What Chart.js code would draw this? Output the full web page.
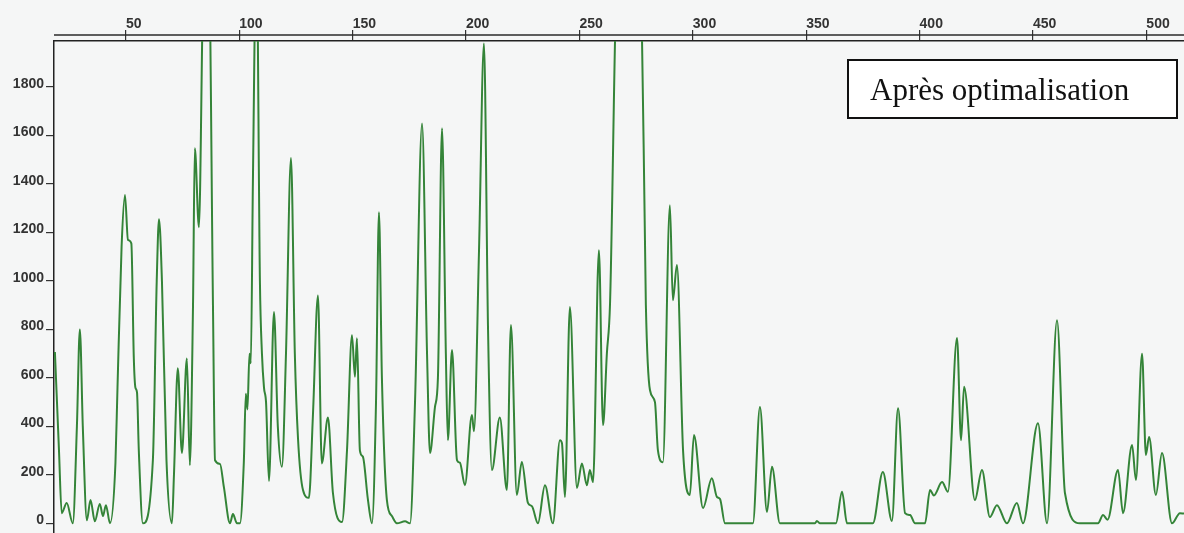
<!DOCTYPE html>
<html>
<head>
<meta charset="utf-8">
<script src="https://cdn.jsdelivr.net/npm/chart.js@4"></script>
<style>
    html, body { margin: 0; padding: 0; background: #f5f6f6; overflow: hidden; }
    canvas { display: block; }
</style>
</head>
<body>
<canvas id="chart" width="1184" height="533"></canvas>
<script>
// Values (x = channel, y = intensity)
const xValues = [
    18.7, 20.5, 21.7, 23.9, 26.6, 28.4, 29.7, 31.0, 32.8, 34.4, 36.3, 38.5, 39.9, 41.2, 43.0,
    45.4, 46.3, 48.1, 49.6, 50.9, 52.4, 53.5, 54.2, 54.9, 55.7, 57.5,
    61.9, 63.6, 64.6, 65.9, 67.9, 70.3, 71.2, 72.9, 74.7, 76.9, 78.2, 79.6, 80.4, 82.2,
    84.4, 86.6, 88.4, 89.3, 91.5, 93.2, 95.9, 97.2, 99.0, 100.3,
    102.0, 102.9, 103.6, 104.5, 105.1, 106.0, 107.6, 109.1, 110.0, 110.9, 111.8, 113.1,
    115.3, 117.0, 118.8, 120.6, 122.8, 124.5, 125.9, 128.1, 130.7, 132.5, 134.7, 136.4,
    139.1, 141.3, 145.3, 147.5, 149.7, 151.0, 151.9, 153.2, 154.5, 156.7, 158.5, 160.3,
    161.6, 162.9, 165.1, 167.3, 169.5, 173.1, 175.3, 177.5, 180.6, 182.8, 184.1, 186.3,
    187.6, 189.4, 191.1, 192.0, 193.8, 196.0, 197.3, 199.5, 202.6, 203.5, 205.7, 207.9,
    209.7, 211.4, 214.9, 218.0, 219.8, 222.4, 224.6, 227.3, 229.1, 231.7, 234.8, 238.3,
    241.4, 242.3, 243.6, 245.8, 248.9, 251.1, 253.3, 254.6, 256.0, 258.6, 260.4, 262.1,
    263.5, 266.5, 271.8, 277.1, 279.3, 281.1, 283.3, 284.6, 286.8, 289.9, 291.2, 293.0,
    295.7, 298.7, 300.5, 304.5, 308.4, 310.6, 312.0, 314.2, 326.5, 329.6, 332.7, 334.9,
    338.4, 353.9, 354.7, 356.1, 363.1, 365.8, 368.0, 379.4, 383.8, 387.8, 390.5, 393.6,
    395.8, 398.0, 402.4, 404.6, 406.3, 409.9, 412.5, 416.5, 418.3, 419.6, 424.4, 427.5,
    431.0, 434.1, 438.5, 442.9, 445.6, 452.2, 456.2, 460.6, 464.1, 470.7, 478.7, 480.9,
    482.9, 487.5, 489.7, 493.7, 495.4, 498.1, 499.8, 501.2, 504.2, 506.9, 511.3, 514.8, 516.6
];
const yValues = [
    707, 300, 42, 84, 0, 400, 800, 400, 13, 96, 8, 80, 30, 75, 0,
    250, 560, 1140, 1355, 1170, 1155, 680, 560, 540, 300, 0,
    260, 1000, 1255, 1000, 260, 0, 200, 640, 290, 680, 240, 900, 1548, 1222,
    2300, 2300, 900, 260, 245, 150, 0, 38, 0, 0,
    250, 535, 470, 700, 660, 1400, 2400, 1000, 700, 560, 500, 175,
    872, 400, 233, 700, 1507, 700, 350, 137, 105, 450, 940, 247,
    437, 125, 5, 300, 776, 605, 764, 300, 275, 100, 0, 500,
    1283, 600, 96, 30, 0, 8, 0, 500, 1650, 700, 290, 480,
    600, 1630, 700, 343, 715, 261, 250, 157, 447, 380, 1118, 1980,
    800, 220, 437, 137, 818, 117, 253, 84, 70, 0, 157, 0,
    343, 330, 109, 892, 146, 247, 157, 220, 170, 1127, 405, 700,
    908, 2300, 2700, 2300, 900, 550, 500, 302, 252, 1312, 920, 1066,
    300, 117, 364, 63, 186, 109, 100, 0, 0, 480, 47, 233,
    0, 0, 10, 0, 0, 130, 0, 0, 212, 10, 475, 42,
    34, 0, 0, 137, 115, 170, 130, 765, 343, 563, 96, 220,
    26, 75, 0, 84, 0, 413, 0, 838, 125, 0, 0, 34,
    15, 220, 42, 323, 179, 700, 282, 356, 117, 290, 0, 42, 40
];
const xTicks = [50, 100, 150, 200, 250, 300, 350, 400, 450, 500];
const yTicks = [0, 200, 400, 600, 800, 1000, 1200, 1400, 1600, 1800];
const boxLabel = 'Après optimalisation';

const tickFont = { family: '"Liberation Sans", Arial, sans-serif', size: 14, weight: 'bold' };

// second rule above the frame + the label box
const decorPlugin = {
    id: 'decor',
    afterDraw(chart) {
        const { ctx, chartArea } = chart;
        ctx.save();
        ctx.strokeStyle = '#2a2a2a';
        ctx.lineWidth = 1.5;
        ctx.beginPath();
        ctx.moveTo(chartArea.left, chartArea.top - 6);
        ctx.lineTo(chartArea.right, chartArea.top - 6);
        ctx.stroke();

        ctx.fillStyle = '#ffffff';
        ctx.fillRect(848, 60, 329, 58);
        ctx.strokeStyle = '#111';
        ctx.lineWidth = 2;
        ctx.strokeRect(848, 60, 329, 58);
        ctx.fillStyle = '#111';
        ctx.font = '31px "Liberation Serif", "Times New Roman", serif';
        ctx.textBaseline = 'alphabetic';
        ctx.fillText(boxLabel, 870, 100);
        ctx.restore();
    }
};

// keep the plot area flush with the canvas edges
function noPad(s) {
    s.paddingTop = 0;
    s.paddingBottom = 0;
    s.paddingLeft = 0;
    s.paddingRight = 0;
}

new Chart(document.getElementById('chart'), {
    type: 'line',
    data: {
        datasets: [{
            data: xValues.map((x, i) => ({ x: x, y: yValues[i] })),
            borderColor: 'rgb(52, 132, 56)',
            borderWidth: 2,
            pointRadius: 0,
            fill: false,
            cubicInterpolationMode: 'monotone'
        }]
    },
    options: {
        responsive: false,
        animation: false,
        devicePixelRatio: 1,
        layout: { padding: 0 },
        plugins: { legend: { display: false }, tooltip: { enabled: false } },
        scales: {
            x: {
                type: 'linear',
                position: 'top',
                min: 18.3,
                max: 516.6,
                afterBuildTicks: s => { s.ticks = xTicks.map(v => ({ value: v })); },
                afterFit: s => { s.height = 41; noPad(s); },
                ticks: { align: 'start', padding: -3, color: '#333', font: tickFont, maxRotation: 0,
                    callback: v => String(v) },
                grid: { drawOnChartArea: false, tickLength: 11, color: '#333', lineWidth: 1.2 },
                border: { color: '#222', width: 1.5 }
            },
            y: {
                type: 'linear',
                min: -40,
                max: 1990,
                afterBuildTicks: s => { s.ticks = yTicks.map(v => ({ value: v })); },
                afterFit: s => { s.width = 54; noPad(s); },
                ticks: { padding: 2, labelOffset: -3, color: '#333', font: tickFont,
                    callback: v => String(v) },
                grid: { drawOnChartArea: false, tickLength: 8, color: '#333', lineWidth: 1.2 },
                border: { color: '#222', width: 1.5 }
            }
        }
    },
    plugins: [decorPlugin]
});
</script>
</body>
</html>
